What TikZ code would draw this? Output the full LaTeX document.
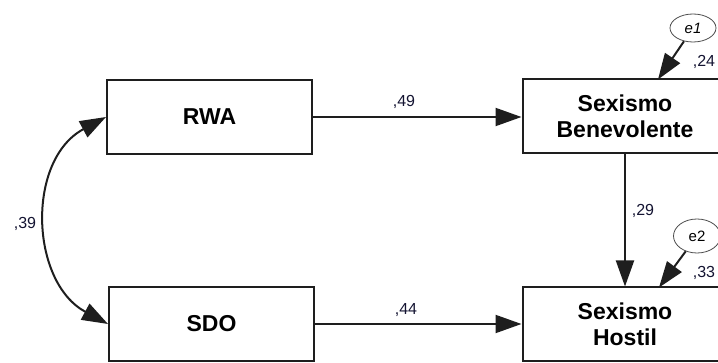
\documentclass[tikz,border=0pt]{standalone}
\usepackage{fontspec}
\setmainfont{Liberation Sans}
\usetikzlibrary{arrows.meta,shapes.geometric}
\definecolor{lineclr}{RGB}{30,30,30}
\definecolor{numclr}{RGB}{20,20,50}
\tikzset{
  varbox/.style={draw=lineclr, line width=2pt, minimum width=205pt, minimum height=74pt,
    inner sep=0pt, align=center, font=\fontsize{23}{26}\selectfont\bfseries},
  errnode/.style={draw=gray!60!black, line width=0.8pt, ellipse, minimum width=46pt,
    minimum height=28pt, inner sep=0pt, font=\fontsize{15}{17}\selectfont},
  regpath/.style={draw=lineclr, line width=2pt, -{Triangle[length=26pt,width=18pt]}},
  covpath/.style={draw=lineclr, line width=2pt,
    {Triangle[length=26pt,width=18pt]}-{Triangle[length=26pt,width=18pt]}},
  coef/.style={font=\fontsize{16}{18}\selectfont, text=numclr, inner sep=0pt}
}
\begin{document}
\begin{tikzpicture}[x=1pt,y=-1pt]
  \useasboundingbox (0,0) rectangle (718,363);
  \clip (0,0) rectangle (718,363);

  % observed variables
  \node[varbox] (RWA) at (209.5,117) {RWA};
  \node[varbox] (SDO) at (211.5,324) {SDO};
  \node[varbox] (SB)  at (625,116.5) {Sexismo\\Benevolente};
  \node[varbox] (SH)  at (625,324.5) {Sexismo\\Hostil};

  % error terms
  \node[errnode] (e1) at (693,28) {\itshape e1};
  \node[errnode, minimum height=34pt, minimum width=47pt] (e2) at (697,236) {e2};
  \coordinate (t1) at (658,79.5);
  \coordinate (t2) at (659,287.5);

  % regression paths
  \draw[regpath] (RWA.east) -- (RWA.east -| SB.west);
  \draw[regpath] (SDO.east) -- (SDO.east -| SH.west);
  \draw[regpath] (SB.south) -- (SH.north);
  \draw[regpath] (e1) -- (t1);
  \draw[regpath] (e2) -- (t2);

  % covariance between exogenous variables
  \draw[covpath] (RWA.west) .. controls (26,160) and (30,282) .. (SDO.west);

  % estimates
  \node[coef] (c49) at (404,102) {,49};
  \node[coef] (c44) at (406,310) {,44};
  \node[coef] (c29) at (643,211) {,29};
  \node[coef] (c39) at (25,224) {,39};
  \node[coef] (c24) at (704,62) {,24};
  \node[coef] (c33) at (704,273) {,33};
\end{tikzpicture}
\end{document}
